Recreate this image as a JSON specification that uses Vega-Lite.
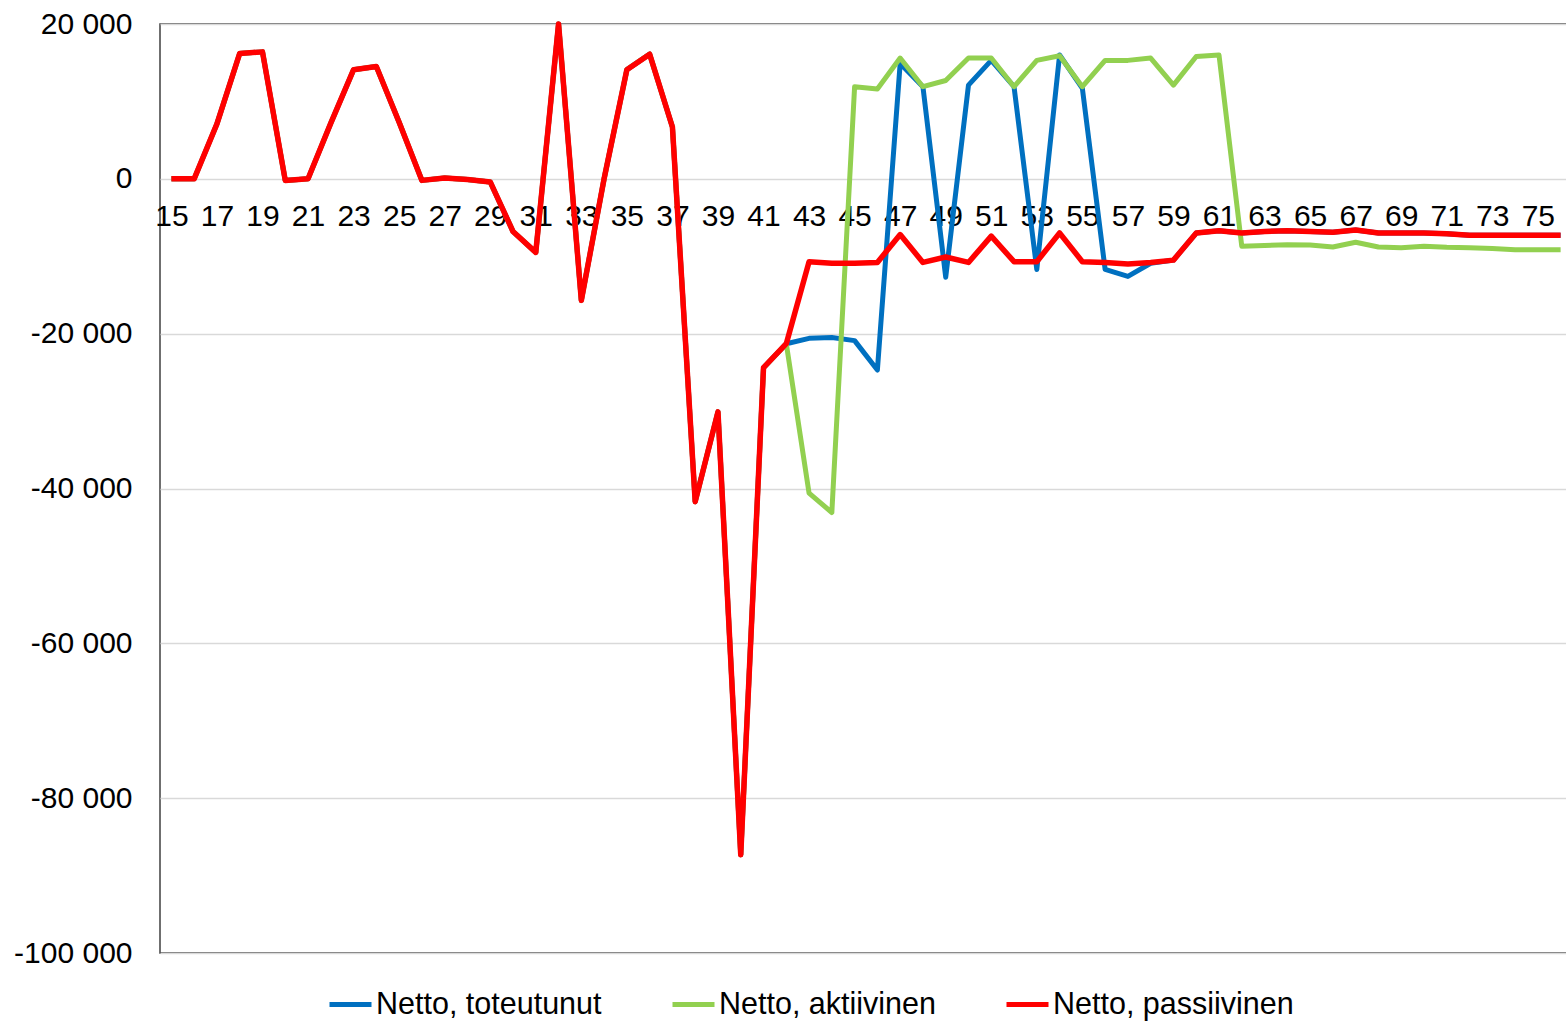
{
  "$schema": "https://vega.github.io/schema/vega-lite/v6.json",
  "width": 1412,
  "height": 929,
  "autosize": {"type": "none"},
  "padding": {"left": 160, "top": 24, "right": 0, "bottom": 68},
  "background": "white",
  "config": {
    "font": "Liberation Sans",
    "locale": {"number": {"decimal": ",", "thousands": " ", "grouping": [3], "currency": ["", " €"], "minus": "-"}},
    "view": {"stroke": "#404040", "strokeWidth": 1.5}
  },
  "data": {
    "values": [
      {"ika": 15, "toteutunut": 0, "aktiivinen": 0, "passiivinen": 0},
      {"ika": 16, "toteutunut": 0, "aktiivinen": 0, "passiivinen": 0},
      {"ika": 17, "toteutunut": 7100, "aktiivinen": 7100, "passiivinen": 7100},
      {"ika": 18, "toteutunut": 16200, "aktiivinen": 16200, "passiivinen": 16200},
      {"ika": 19, "toteutunut": 16400, "aktiivinen": 16400, "passiivinen": 16400},
      {"ika": 20, "toteutunut": -200, "aktiivinen": -200, "passiivinen": -200},
      {"ika": 21, "toteutunut": 0, "aktiivinen": 0, "passiivinen": 0},
      {"ika": 22, "toteutunut": 7200, "aktiivinen": 7200, "passiivinen": 7200},
      {"ika": 23, "toteutunut": 14100, "aktiivinen": 14100, "passiivinen": 14100},
      {"ika": 24, "toteutunut": 14500, "aktiivinen": 14500, "passiivinen": 14500},
      {"ika": 25, "toteutunut": 7300, "aktiivinen": 7300, "passiivinen": 7300},
      {"ika": 26, "toteutunut": -200, "aktiivinen": -200, "passiivinen": -200},
      {"ika": 27, "toteutunut": 100, "aktiivinen": 100, "passiivinen": 100},
      {"ika": 28, "toteutunut": -100, "aktiivinen": -100, "passiivinen": -100},
      {"ika": 29, "toteutunut": -400, "aktiivinen": -400, "passiivinen": -400},
      {"ika": 30, "toteutunut": -6800, "aktiivinen": -6800, "passiivinen": -6800},
      {"ika": 31, "toteutunut": -9500, "aktiivinen": -9500, "passiivinen": -9500},
      {"ika": 32, "toteutunut": 20000, "aktiivinen": 20000, "passiivinen": 20000},
      {"ika": 33, "toteutunut": -15700, "aktiivinen": -15700, "passiivinen": -15700},
      {"ika": 34, "toteutunut": 0, "aktiivinen": 0, "passiivinen": 0},
      {"ika": 35, "toteutunut": 14100, "aktiivinen": 14100, "passiivinen": 14100},
      {"ika": 36, "toteutunut": 16100, "aktiivinen": 16100, "passiivinen": 16100},
      {"ika": 37, "toteutunut": 6700, "aktiivinen": 6700, "passiivinen": 6700},
      {"ika": 38, "toteutunut": -41700, "aktiivinen": -41700, "passiivinen": -41700},
      {"ika": 39, "toteutunut": -30100, "aktiivinen": -30100, "passiivinen": -30100},
      {"ika": 40, "toteutunut": -87300, "aktiivinen": -87300, "passiivinen": -87300},
      {"ika": 41, "toteutunut": -24400, "aktiivinen": -24400, "passiivinen": -24400},
      {"ika": 42, "toteutunut": -21300, "aktiivinen": -21300, "passiivinen": -21300},
      {"ika": 43, "toteutunut": -20600, "aktiivinen": -40600, "passiivinen": -10700},
      {"ika": 44, "toteutunut": -20500, "aktiivinen": -43100, "passiivinen": -10900},
      {"ika": 45, "toteutunut": -20900, "aktiivinen": 11900, "passiivinen": -10900},
      {"ika": 46, "toteutunut": -24700, "aktiivinen": 11600, "passiivinen": -10800},
      {"ika": 47, "toteutunut": 14900, "aktiivinen": 15600, "passiivinen": -7200},
      {"ika": 48, "toteutunut": 11900, "aktiivinen": 11900, "passiivinen": -10800},
      {"ika": 49, "toteutunut": -12700, "aktiivinen": 12700, "passiivinen": -10100},
      {"ika": 50, "toteutunut": 12100, "aktiivinen": 15600, "passiivinen": -10800},
      {"ika": 51, "toteutunut": 15300, "aktiivinen": 15600, "passiivinen": -7400},
      {"ika": 52, "toteutunut": 11900, "aktiivinen": 11900, "passiivinen": -10700},
      {"ika": 53, "toteutunut": -11700, "aktiivinen": 15300, "passiivinen": -10700},
      {"ika": 54, "toteutunut": 16000, "aktiivinen": 15900, "passiivinen": -7000},
      {"ika": 55, "toteutunut": 11700, "aktiivinen": 11900, "passiivinen": -10700},
      {"ika": 56, "toteutunut": -11700, "aktiivinen": 15300, "passiivinen": -10800},
      {"ika": 57, "toteutunut": -12600, "aktiivinen": 15300, "passiivinen": -11000},
      {"ika": 58, "toteutunut": -10900, "aktiivinen": 15600, "passiivinen": -10800},
      {"ika": 59, "toteutunut": -10500, "aktiivinen": 12100, "passiivinen": -10500},
      {"ika": 60, "toteutunut": -7000, "aktiivinen": 15800, "passiivinen": -7000},
      {"ika": 61, "toteutunut": -6700, "aktiivinen": 16000, "passiivinen": -6700},
      {"ika": 62, "toteutunut": -7000, "aktiivinen": -8700, "passiivinen": -7000},
      {"ika": 63, "toteutunut": -6800, "aktiivinen": -8600, "passiivinen": -6800},
      {"ika": 64, "toteutunut": -6700, "aktiivinen": -8500, "passiivinen": -6700},
      {"ika": 65, "toteutunut": -6800, "aktiivinen": -8550, "passiivinen": -6800},
      {"ika": 66, "toteutunut": -6900, "aktiivinen": -8800, "passiivinen": -6900},
      {"ika": 67, "toteutunut": -6600, "aktiivinen": -8200, "passiivinen": -6600},
      {"ika": 68, "toteutunut": -7000, "aktiivinen": -8800, "passiivinen": -7000},
      {"ika": 69, "toteutunut": -7000, "aktiivinen": -8900, "passiivinen": -7000},
      {"ika": 70, "toteutunut": -7000, "aktiivinen": -8700, "passiivinen": -7000},
      {"ika": 71, "toteutunut": -7100, "aktiivinen": -8850, "passiivinen": -7100},
      {"ika": 72, "toteutunut": -7300, "aktiivinen": -8900, "passiivinen": -7300},
      {"ika": 73, "toteutunut": -7300, "aktiivinen": -9000, "passiivinen": -7300},
      {"ika": 74, "toteutunut": -7300, "aktiivinen": -9150, "passiivinen": -7300},
      {"ika": 75, "toteutunut": -7300, "aktiivinen": -9150, "passiivinen": -7300},
      {"ika": 76, "toteutunut": -7300, "aktiivinen": -9150, "passiivinen": -7300}
    ]
  },
  "transform": [
    {"fold": ["toteutunut", "aktiivinen", "passiivinen"], "as": ["sarja", "arvo"]}
  ],
  "encoding": {
    "x": {
      "field": "ika",
      "type": "ordinal",
      "scale": {"type": "point", "padding": 0.5},
      "axis": {
        "title": null,
        "values": [15, 17, 19, 21, 23, 25, 27, 29, 31, 33, 35, 37, 39, 41, 43, 45, 47, 49, 51, 53, 55, 57, 59, 61, 63, 65, 67, 69, 71, 73, 75],
        "labelAngle": 0,
        "labelFontSize": 30,
        "labelColor": "#000000",
        "labelPadding": 22,
        "labelOverlap": false,
        "labelFlush": false,
        "ticks": false,
        "domain": false,
        "grid": false,
        "offset": -774
      }
    },
    "y": {
      "field": "arvo",
      "type": "quantitative",
      "scale": {"domain": [-100000, 20000], "nice": false, "zero": false},
      "axis": {
        "title": null,
        "values": [-100000, -80000, -60000, -40000, -20000, 0, 20000],
        "format": ",d",
        "labelFontSize": 30,
        "labelColor": "#000000",
        "labelPadding": 28,
        "ticks": false,
        "domain": false,
        "grid": true,
        "gridColor": "#d9d9d9",
        "gridWidth": 1.5
      }
    },
    "color": {
      "field": "sarja",
      "type": "nominal",
      "scale": {"domain": ["toteutunut", "aktiivinen", "passiivinen"], "range": ["#0070C0", "#92D050", "#FF0000"]},
      "legend": {
        "title": null,
        "orient": "none",
        "legendX": 167,
        "legendY": 957,
        "direction": "horizontal",
        "labelExpr": "'Netto, ' + datum.label",
        "labelFontSize": 30.5,
        "labelLimit": 500,
        "labelColor": "#000000",
        "labelOffset": 2,
        "columnPadding": 60,
        "symbolType": "stroke",
        "symbolSize": 1764,
        "symbolStrokeWidth": 5
      }
    }
  },
  "layer": [
    {"transform": [{"filter": "datum.sarja === 'toteutunut'"}], "mark": {"type": "line", "strokeWidth": 5, "strokeJoin": "round"}},
    {"transform": [{"filter": "datum.sarja === 'aktiivinen'"}], "mark": {"type": "line", "strokeWidth": 5, "strokeJoin": "round"}},
    {"transform": [{"filter": "datum.sarja === 'passiivinen'"}], "mark": {"type": "line", "strokeWidth": 5.5, "strokeJoin": "round"}}
  ]
}
